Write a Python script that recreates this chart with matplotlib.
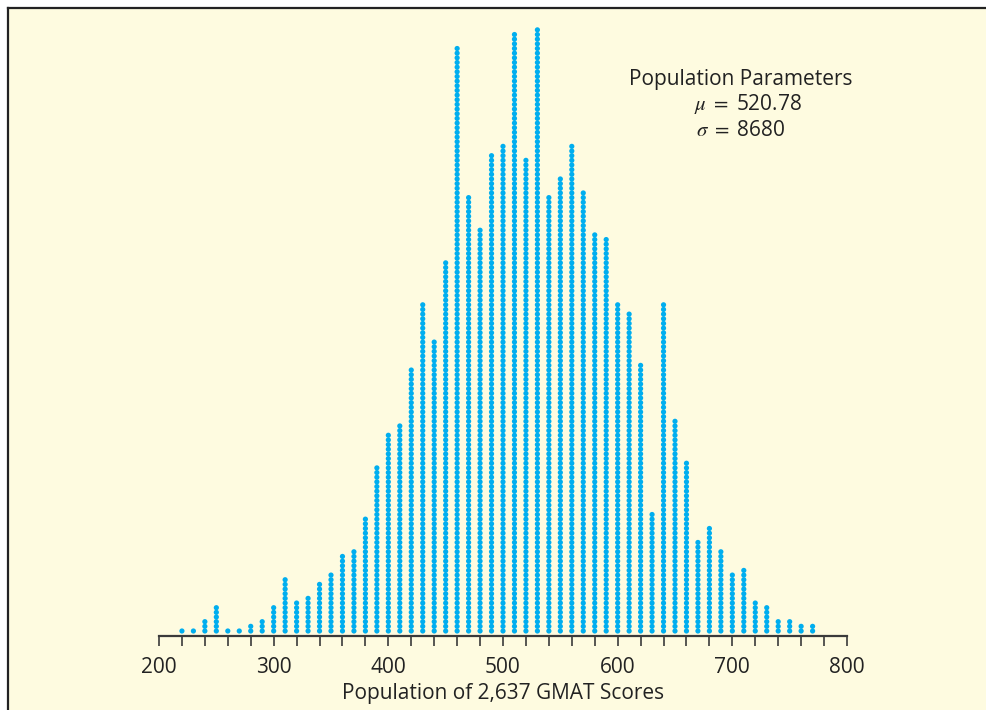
import matplotlib
matplotlib.use("Agg")
import matplotlib.pyplot as plt
from matplotlib.lines import Line2D
from matplotlib.patches import Rectangle

plt.rcParams['font.family'] = ['Open Sans', 'DejaVu Sans']
plt.rcParams['mathtext.fontset'] = 'stix'

scores = list(range(220, 780, 10))
counts = [1, 1, 3, 6, 1, 1, 2, 3, 6, 12,
          7, 8, 11, 13, 17, 18, 25, 36,
          43, 45, 57, 71, 63, 80,
          126, 94, 87, 103, 105,
          129, 102, 130, 94, 98,
          105, 95, 86, 85, 71,
          69, 58, 26, 71, 46,
          37, 20, 23, 18, 13,
          14, 7, 6, 3, 3, 2, 2]
xticks = list(range(200, 801, 100))
xlabel = "Population of 2,637 GMAT Scores"
title = "Population Parameters"
mu_text = r"$\mu\ =\ $520.78"
sigma_text = r"$\sigma\ =\ $8680"

W, H = 987, 710
fig = plt.figure(figsize=(W / 100, H / 100), dpi=100)
fig.patch.set_facecolor('white')
cream = '#FEFBE0'
fig.add_artist(Rectangle((8 / W, 0), 1 - 8 / W, 1 - 8 / H, transform=fig.transFigure,
                         facecolor=cream, edgecolor='none', zorder=0))
fig.add_artist(Line2D([8 / W, 8 / W], [0, 1 - 8 / H], transform=fig.transFigure,
                      color='#222222', lw=1.6))
fig.add_artist(Line2D([8 / W, 1], [1 - 8 / H, 1 - 8 / H], transform=fig.transFigure,
                      color='#222222', lw=1.6))

ax_left, ax_right = 159, 847
ax_bottom, ax_top = 636, 8
ax = fig.add_axes([ax_left / W, (H - ax_bottom) / H,
                   (ax_right - ax_left) / W, (ax_bottom - ax_top) / H])
ax.set_facecolor('none')

spacing = 4.66
ax.set_xlim(200, 800)
ax.set_ylim(0, (ax_bottom - ax_top) / spacing)
offset = 5 / spacing
xs, ys = [], []
for s, c in zip(scores, counts):
    for k in range(c):
        xs.append(s)
        ys.append(offset + k)
ax.scatter(xs, ys, s=14, color='#00AEEF', edgecolors='none', zorder=3)

for sp in ['left', 'right', 'top']:
    ax.spines[sp].set_visible(False)
ax.spines['bottom'].set_color('#3a3a3a')
ax.spines['bottom'].set_linewidth(1.6)
ax.set_yticks([])
ax.set_xticks(list(range(200, 801, 20)))
ax.set_xticklabels([str(t) if t in xticks else '' for t in range(200, 801, 20)])
ax.tick_params(axis='x', direction='out', length=7, width=1.2, color='#3a3a3a',
               labelsize=15, labelcolor='#222222', pad=8)
ax.set_xlabel(xlabel, fontsize=15, color='#222222', labelpad=4)

fig.text(741 / W, 1 - 79 / H, title, ha='center', va='center', fontsize=15, color='#222222')
fig.text(694 / W, 1 - 104 / H, mu_text, ha='left', va='center', fontsize=15, color='#222222')
fig.text(696 / W, 1 - 130 / H, sigma_text, ha='left', va='center', fontsize=15, color='#222222')

fig.savefig('out.png', dpi=100, facecolor=fig.get_facecolor())
